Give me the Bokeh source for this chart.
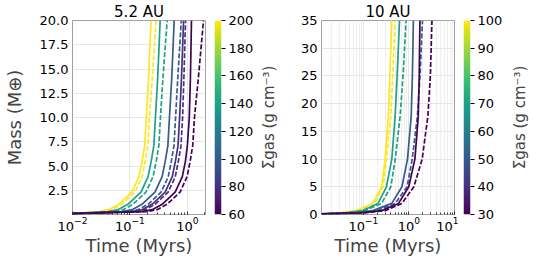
import numpy as np
from bokeh.plotting import figure
from bokeh.layouts import row
from bokeh.models import Range1d, FixedTicker, LinearColorMapper, PrintfTickFormatter
from bokeh.palettes import Viridis256
from bokeh.embed import file_html
from bokeh.resources import INLINE

# ---------------- data ----------------
# left panel: 5.2 AU
sigma_left = [200, 140, 100, 80, 60]
mass_left = [0.1, 0.3, 0.5, 1.05, 2.3, 3.9, 5.5, 7.1, 10.0, 14.0, 20.0]
t_left_s200 = [0.01, 0.029, 0.043, 0.064, 0.108, 0.144, 0.163, 0.181, 0.193, 0.211, 0.233]
t_left_d200 = [0.01, 0.033, 0.049, 0.072, 0.122, 0.163, 0.184, 0.205, 0.218, 0.245, 0.285]
t_left_s140 = [0.01, 0.042, 0.062, 0.092, 0.156, 0.207, 0.235, 0.261, 0.278, 0.304, 0.336]
t_left_d140 = [0.01, 0.051, 0.076, 0.113, 0.190, 0.253, 0.287, 0.319, 0.340, 0.375, 0.445]
t_left_s100 = [0.01, 0.073, 0.109, 0.162, 0.273, 0.364, 0.412, 0.458, 0.488, 0.534, 0.590]
t_left_d100 = [0.01, 0.094, 0.139, 0.207, 0.349, 0.465, 0.526, 0.585, 0.623, 0.680, 0.785]
t_left_s80 = [0.01, 0.110, 0.163, 0.243, 0.410, 0.547, 0.620, 0.688, 0.733, 0.790, 0.860]
t_left_d80 = [0.01, 0.124, 0.184, 0.274, 0.462, 0.616, 0.698, 0.775, 0.826, 0.870, 0.930]
t_left_s60 = [0.01, 0.165, 0.244, 0.364, 0.613, 0.818, 0.926, 1.000, 1.080, 1.130, 1.180]
t_left_d60 = [0.01, 0.200, 0.297, 0.440, 0.745, 0.990, 1.120, 1.240, 1.330, 1.550, 1.910]

# right panel: 10 AU
sigma_right = [100, 70, 50, 30]
mass_right = [0.1, 0.3, 0.7, 2.0, 5.0, 10.0, 17.7, 25.0, 35.0]
t_right_s100 = [0.012, 0.030, 0.068, 0.160, 0.250, 0.300, 0.352, 0.380, 0.420]
t_right_d100 = [0.012, 0.033, 0.075, 0.176, 0.270, 0.320, 0.400, 0.440, 0.497]
t_right_s70 = [0.012, 0.040, 0.095, 0.210, 0.320, 0.420, 0.497, 0.550, 0.620]
t_right_d70 = [0.012, 0.046, 0.108, 0.250, 0.400, 0.500, 0.640, 0.740, 0.865]
t_right_s50 = [0.012, 0.065, 0.160, 0.420, 0.700, 0.930, 1.120, 1.190, 1.250]
t_right_d50 = [0.012, 0.080, 0.200, 0.500, 0.910, 1.180, 1.530, 1.750, 1.980]
t_right_s30 = [0.012, 0.090, 0.250, 0.590, 0.990, 1.350, 1.600, 1.680, 1.740]
t_right_d30 = [0.012, 0.100, 0.300, 0.700, 1.280, 1.950, 2.600, 2.950, 3.200]

left_yticks = [2.5, 5.0, 7.5, 10.0, 12.5, 15.0, 17.5, 20.0]
right_yticks = [0, 5, 10, 15, 20, 25, 30, 35]
left_cb_ticks = [60, 80, 100, 120, 140, 160, 180, 200]
right_cb_ticks = [30, 40, 50, 60, 70, 80, 90, 100]

FONT = "DejaVu Sans"
FRAME_H = 194
CB_LABEL = "Σgas (g cm⁻³)"


def vcolor(s, lo, hi):
    i = int(round((s - lo) / (hi - lo) * 255))
    return Viridis256[max(0, min(255, i))]


def style_title(p, text):
    p.title.text = text
    p.title.align = "center"
    p.title.text_font = FONT
    p.title.text_font_size = "15px"
    p.title.text_font_style = "normal"
    p.title.text_color = "black"
    p.title.standoff = 0
    p.title.offset = 0


def main_fig(xr, yr, yticks, title, border_left, ylabel=None, minor_grid=False, fmt=None):
    p = figure(x_axis_type="log", x_range=Range1d(*xr), y_range=Range1d(*yr),
               frame_width=133, frame_height=FRAME_H,
               min_border_top=0, min_border_left=border_left, min_border_right=4,
               min_border_bottom=0, output_backend="svg", toolbar_location=None)
    style_title(p, title)
    p.background_fill_color = "white"
    p.border_fill_color = "white"
    p.outline_line_color = "#a0a0a0"
    p.outline_line_width = 1
    for ax in (p.xaxis, p.yaxis):
        ax.axis_line_color = None
        ax.major_label_text_font = FONT
        ax.major_label_text_font_size = "13px"
        ax.major_label_text_color = "black"
    p.yaxis.ticker = FixedTicker(ticks=yticks)
    if fmt:
        p.yaxis.formatter = PrintfTickFormatter(format=fmt)
    p.yaxis.major_tick_line_color = None
    p.yaxis.minor_tick_line_color = None
    p.yaxis.major_tick_out = 0
    p.yaxis.major_tick_in = 0
    p.yaxis.major_label_standoff = 4
    p.xaxis.major_tick_in = 3
    p.xaxis.major_tick_out = 0
    p.xaxis.minor_tick_in = 2
    p.xaxis.minor_tick_out = 0
    p.xaxis.major_tick_line_color = "#333333"
    p.xaxis.minor_tick_line_color = "#333333"
    p.xaxis.major_label_standoff = 2
    p.xaxis.axis_label = "Time (Myrs)"
    p.xaxis.axis_label_text_font = FONT
    p.xaxis.axis_label_text_font_size = "18px"
    p.xaxis.axis_label_text_font_style = "normal"
    p.xaxis.axis_label_standoff = 1
    if ylabel:
        p.yaxis.axis_label = ylabel
        p.yaxis.axis_label_text_font = FONT
        p.yaxis.axis_label_text_font_size = "18px"
        p.yaxis.axis_label_text_font_style = "normal"
        p.yaxis.axis_label_standoff = 12
    p.grid.grid_line_color = "#e6e6e6"
    if minor_grid:
        p.xgrid.minor_grid_line_color = "#efefef"
    return p


def cb_fig(lo, hi, ticks, bl, br):
    c = figure(x_range=Range1d(0, 1), y_range=Range1d(lo, hi),
               frame_width=7, frame_height=FRAME_H, min_border_top=0,
               min_border_left=bl, min_border_right=br, min_border_bottom=10,
               y_axis_location="right", x_axis_location=None,
               output_backend="svg", toolbar_location=None)
    style_title(c, " ")
    c.grid.visible = False
    c.outline_line_color = None
    mapper = LinearColorMapper(palette=Viridis256, low=lo, high=hi)
    grad = np.linspace(lo, hi, 256).reshape(256, 1)
    c.image(image=[grad], x=0, y=lo, dw=1, dh=hi - lo, color_mapper=mapper)
    ax = c.yaxis[0]
    ax.ticker = FixedTicker(ticks=ticks)
    ax.axis_line_color = None
    ax.major_tick_out = 4
    ax.major_tick_in = 0
    ax.major_tick_line_color = "black"
    ax.minor_tick_line_color = None
    ax.minor_tick_out = 0
    ax.minor_tick_in = 0
    ax.major_label_standoff = 3
    ax.major_label_text_font = FONT
    ax.major_label_text_font_size = "13px"
    ax.major_label_text_color = "black"
    return c


def label_fig():
    # thin companion figure whose left axis carries the colour-bar label
    f = figure(x_range=Range1d(0, 1), y_range=Range1d(0, 1),
               frame_width=1, frame_height=FRAME_H, min_border_top=0,
               min_border_left=0, min_border_right=0, min_border_bottom=0,
               y_axis_location="left", x_axis_location=None,
               output_backend="svg", toolbar_location=None)
    style_title(f, " ")
    f.grid.visible = False
    f.outline_line_color = None
    ax = f.yaxis[0]
    ax.ticker = FixedTicker(ticks=[])
    ax.axis_line_color = None
    ax.major_tick_line_color = None
    ax.minor_tick_line_color = None
    ax.major_tick_out = 0
    ax.major_tick_in = 0
    ax.minor_tick_out = 0
    ax.minor_tick_in = 0
    ax.major_label_standoff = 0
    ax.major_label_text_font_size = "0px"
    ax.axis_label = CB_LABEL
    ax.axis_label_text_font = FONT
    ax.axis_label_text_font_size = "15px"
    ax.axis_label_text_font_style = "normal"
    ax.axis_label_standoff = 0
    return f


# ---------------- left panel ----------------
pl = main_fig((0.01, 2.07), (0, 20), left_yticks, "5.2 AU", 70,
              ylabel="Mass (M⊕)", fmt="%.1f")
left_solid = [t_left_s200, t_left_s140, t_left_s100, t_left_s80, t_left_s60]
left_dash = [t_left_d200, t_left_d140, t_left_d100, t_left_d80, t_left_d60]
for s, ts, td in zip(sigma_left, left_solid, left_dash):
    col = vcolor(s, 60, 200)
    pl.line(ts, mass_left, line_color=col, line_width=1.7)
    pl.line(td, mass_left, line_color=col, line_width=1.7, line_dash="5 2")

cl = cb_fig(60, 200, left_cb_ticks, 5, 32)
ll = label_fig()

# ---------------- right panel ----------------
pr = main_fig((0.012, 10.0), (0, 35), right_yticks, "10 AU", 43, minor_grid=True)
right_solid = [t_right_s100, t_right_s70, t_right_s50, t_right_s30]
right_dash = [t_right_d100, t_right_d70, t_right_d50, t_right_d30]
for s, ts, td in zip(sigma_right, right_solid, right_dash):
    col = vcolor(s, 30, 100)
    pr.line(ts, mass_right, line_color=col, line_width=1.7)
    pr.line(td, mass_right, line_color=col, line_width=1.7, line_dash="5 2")

cr = cb_fig(30, 100, right_cb_ticks, 5, 37)
lr = label_fig()

layout = row(pl, cl, ll, pr, cr, lr)
open("out.html", "w").write(file_html(layout, INLINE))
